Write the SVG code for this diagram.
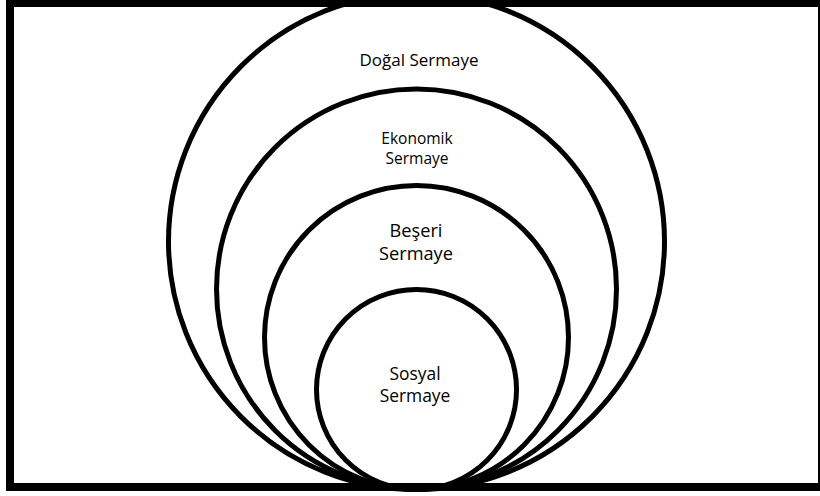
<svg xmlns="http://www.w3.org/2000/svg" width="820" height="496" viewBox="0 0 820 496">
  <style>
    .ring { fill: none; stroke: #000; stroke-width: 5; }
    .frame { fill: none; stroke: #000; stroke-width: 8; }
    .lbl { font-family: "Open Sans", "Noto Sans", "Liberation Sans", sans-serif; fill: #000; text-anchor: middle; }
  </style>
  <rect x="0" y="0" width="820" height="496" fill="#fff"/>
  <g id="frame">
    <rect class="frame" x="10" y="3" width="812" height="484"/>
  </g>
  <g id="dogal-sermaye">
    <circle class="ring" cx="416.5" cy="241.5" r="248"/>
    <text class="lbl" x="419" y="66" font-size="17">Doğal Sermaye</text>
  </g>
  <g id="ekonomik-sermaye">
    <circle class="ring" cx="416.5" cy="289" r="200"/>
    <text class="lbl" x="417" y="144" font-size="15.5">Ekonomik</text>
    <text class="lbl" x="417" y="164" font-size="15.5">Sermaye</text>
  </g>
  <g id="beseri-sermaye">
    <circle class="ring" cx="416.5" cy="337.5" r="152"/>
    <text class="lbl" x="416" y="237" font-size="18.2">Beşeri</text>
    <text class="lbl" x="416" y="260" font-size="18.2">Sermaye</text>
  </g>
  <g id="sosyal-sermaye">
    <circle class="ring" cx="416.5" cy="389.5" r="100"/>
    <text class="lbl" x="415" y="380" font-size="17.4">Sosyal</text>
    <text class="lbl" x="415" y="402" font-size="17.4">Sermaye</text>
  </g>
</svg>
